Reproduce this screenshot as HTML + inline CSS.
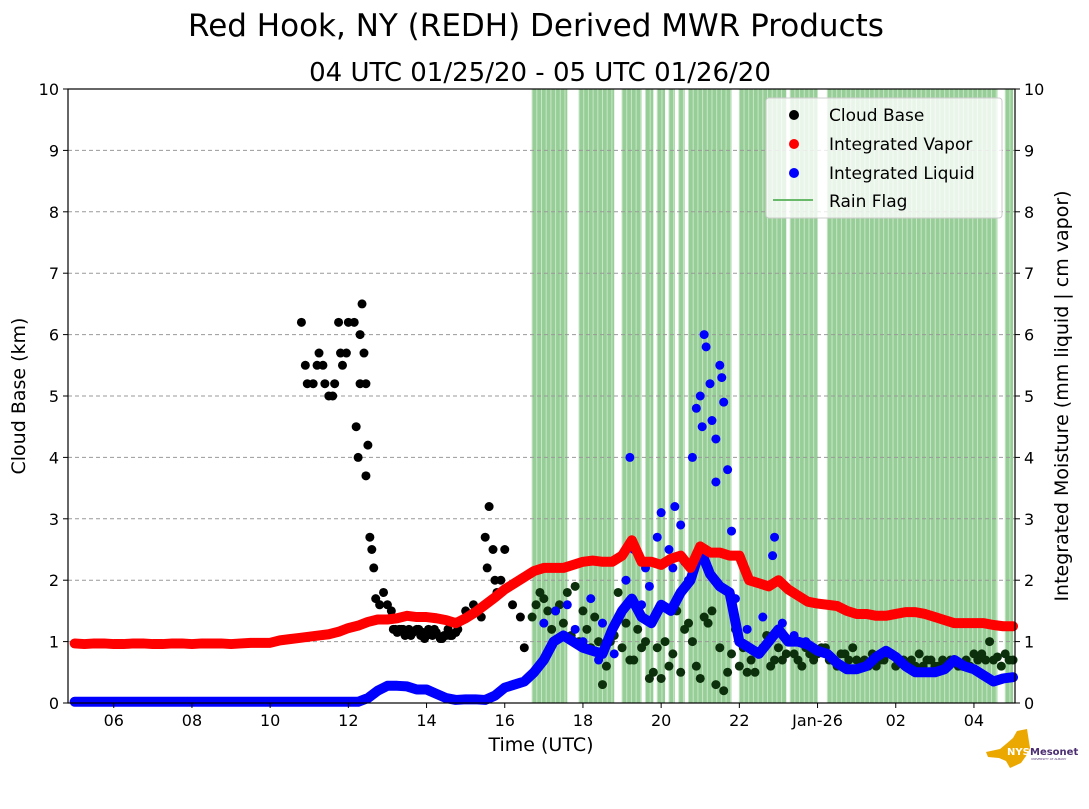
<!DOCTYPE html>
<html><head><meta charset="utf-8"><style>
body{margin:0;background:#fff;font-family:"Liberation Sans","DejaVu Sans",sans-serif;}
svg text{font-family:"DejaVu Sans","Liberation Sans",sans-serif;}
</style></head><body>
<svg id="chart" width="1089" height="804" xmlns="http://www.w3.org/2000/svg">
<text x="536" y="36" font-size="31" text-anchor="middle">Red Hook, NY (REDH) Derived MWR Products</text>
<text x="540" y="81" font-size="26" text-anchor="middle">04 UTC 01/25/20 - 05 UTC 01/26/20</text>
<g id="rain"></g>
<g id="grid"></g>
<g id="marks"></g>
<rect x="68" y="89" width="947" height="614" fill="none" stroke="#000" stroke-width="1.2"/>
<g id="axes"></g>
<text x="541" y="751" font-size="19" text-anchor="middle">Time (UTC)</text>
<text transform="translate(25,396) rotate(-90)" font-size="19" text-anchor="middle">Cloud Base (km)</text>
<text transform="translate(1068,396) rotate(-90)" font-size="19" text-anchor="middle">Integrated Moisture (mm liquid | cm vapor)</text>
<g>
<rect x="766" y="98" width="236" height="120" rx="3" fill="#fff" fill-opacity="0.8" stroke="#ccc"/>
<circle cx="794" cy="115" r="5" fill="#000"/><text x="829" y="121" font-size="17">Cloud Base</text>
<circle cx="794" cy="144" r="5" fill="#f00"/><text x="829" y="150" font-size="17">Integrated Vapor</text>
<circle cx="794" cy="173" r="5" fill="#00f"/><text x="829" y="179" font-size="17">Integrated Liquid</text>
<line x1="773" y1="200" x2="813" y2="200" stroke="#6ab96a" stroke-width="2"/><text x="829" y="207" font-size="17">Rain Flag</text>
</g>
<g>
<polygon points="986,752 1000,749 1006,744 1013,738 1017,731 1027,729 1030,748 1026,756 1021,763 1010,768 1006,761 999,758 988,757" fill="#eaa800"/>
<text x="1007" y="755" font-size="10" font-weight="bold" fill="#fff">NYS</text>
<text x="1030" y="755" font-size="10" font-weight="bold" fill="#4b2e72">Mesonet</text>
<text x="1031" y="760" font-size="3" fill="#4b2e72">UNIVERSITY AT ALBANY</text>
</g>
</svg>
<script>
const xTicks=[6,8,10,12,14,16,18,20,22,24,26,28];
const xTickLabels=["06","08","10","12","14","16","18","20","22","Jan-26","02","04"];
const yTicks=[0,1,2,3,4,5,6,7,8,9,10];
const vaporStart=5.0, step=0.25;
const vapor=[0.97,0.96,0.97,0.97,0.96,0.96,0.97,0.97,0.96,0.96,0.97,0.97,0.96,0.97,0.97,0.97,0.96,0.97,0.98,0.98,0.98,1.02,1.04,1.06,1.08,1.1,1.12,1.16,1.22,1.26,1.32,1.36,1.36,1.38,1.42,1.4,1.4,1.38,1.35,1.3,1.38,1.48,1.6,1.72,1.85,1.95,2.05,2.15,2.2,2.2,2.2,2.25,2.3,2.32,2.3,2.3,2.4,2.65,2.3,2.3,2.25,2.35,2.4,2.2,2.55,2.45,2.45,2.4,2.4,2.0,1.95,1.9,2.0,1.85,1.75,1.65,1.62,1.6,1.58,1.5,1.45,1.45,1.42,1.42,1.45,1.48,1.48,1.45,1.4,1.35,1.3,1.3,1.3,1.3,1.27,1.25,1.25];
const liquid=[0.02,0.02,0.02,0.02,0.02,0.02,0.02,0.02,0.02,0.02,0.02,0.02,0.02,0.02,0.02,0.02,0.02,0.02,0.02,0.02,0.02,0.02,0.02,0.02,0.02,0.02,0.02,0.02,0.02,0.02,0.08,0.2,0.28,0.28,0.27,0.22,0.22,0.15,0.08,0.05,0.06,0.06,0.05,0.12,0.25,0.3,0.35,0.5,0.7,1.0,1.1,1.0,0.9,0.85,0.8,1.2,1.5,1.7,1.4,1.3,1.6,1.5,1.8,2.0,2.5,2.1,1.9,1.8,1.0,0.9,0.8,1.0,1.2,1.0,1.0,0.95,0.85,0.8,0.65,0.55,0.55,0.6,0.75,0.85,0.75,0.6,0.5,0.5,0.5,0.55,0.7,0.6,0.55,0.45,0.35,0.4,0.42];
const liquidExtraT=[19.2,20.0,20.2,20.35,20.5,20.8,20.9,21.0,21.1,21.15,21.25,21.3,21.4,21.5,21.55,21.6,21.7,21.8,21.4,22.9,22.85,19.3,19.6,18.5,18.2,17.3,19.9,20.6,21.05,17.6,17.0,17.8,18.0,18.8,19.1,19.5,20.3,20.7,21.9,22.2,22.6,23.1,23.4,23.7,18.4,19.7];
const liquidExtraV=[4.0,3.1,2.5,3.2,2.9,4.0,4.8,5.0,6.0,5.8,5.2,4.6,4.3,5.5,5.3,4.9,3.8,2.8,3.6,2.7,2.4,2.5,2.2,1.3,1.7,1.5,2.7,2.3,4.5,1.6,1.3,1.2,1.0,0.8,2.0,1.6,2.2,2.0,1.7,1.2,1.4,1.3,1.1,1.0,0.7,1.9];
const cloudT=[10.8,10.9,10.95,11.1,11.2,11.25,11.35,11.4,11.5,11.6,11.65,11.75,11.8,11.85,11.95,12.0,12.15,12.2,12.25,12.3,12.3,12.35,12.4,12.45,12.45,12.5,12.55,12.6,12.65,12.7,12.8,12.9,13.0,13.1,13.2,13.4,13.6,13.8,14.0,14.2,14.4,14.6,14.8,15.0,15.2,15.4,15.5,15.55,15.6,15.7,15.75,15.8,15.9,16.0,16.2,16.4,16.5,16.7,16.8,17.0,17.3,17.6,18.0,18.3,18.5,18.9,19.1,19.5,19.8,20.0,20.3,20.6,21.0,21.3,21.6,21.8,22.0,22.3,22.6,22.9,23.2,23.5,23.8,24.1,24.4,24.7,25.0,25.3,25.6,25.9,26.2,26.5,26.8,27.1,27.4,27.7,28.0,28.3,28.6,28.9,13.3,13.9,14.5,17.8,18.7,19.3,20.8,21.2,22.2,
13.15,13.25,13.35,13.45,13.55,13.65,13.75,13.85,13.95,14.05,14.15,14.25,14.35,14.45,14.55,14.65,14.75,16.9,17.1,17.2,17.4,17.5,17.7,17.9,18.1,18.2,18.4,18.6,18.8,19.0,19.2,19.4,19.6,19.7,19.9,20.1,20.2,20.4,20.5,20.7,20.9,21.1,21.4,21.5,21.7,21.9,22.1,22.4,22.5,22.7,22.8,23.0,23.1,23.3,23.4,23.6,23.7,23.9,24.0,24.2,24.3,24.5,24.6,24.8,24.9,25.1,25.2,25.4,25.5,25.7,25.8,26.0,26.1,26.3,26.4,26.6,26.7,26.9,27.0,27.2,27.3,27.5,27.6,27.8,27.9,28.1,28.2,28.4,28.5,28.7,28.8,29.0];
const cloudV=[6.2,5.5,5.2,5.2,5.5,5.7,5.5,5.2,5.0,5.0,5.2,6.2,5.7,5.5,5.7,6.2,6.2,4.5,4.0,5.2,6.0,6.5,5.7,5.2,3.7,4.2,2.7,2.5,2.2,1.7,1.6,1.8,1.6,1.5,1.2,1.2,1.1,1.2,1.1,1.2,1.05,1.1,1.2,1.5,1.6,1.4,2.7,2.2,3.2,2.5,2.0,1.8,2.0,2.5,1.6,1.4,0.9,1.4,1.6,1.7,1.5,1.8,1.5,1.4,0.3,1.8,1.3,0.9,0.5,0.4,0.8,1.2,0.4,1.5,0.2,0.8,0.6,0.7,0.9,0.7,0.8,0.7,0.8,0.9,0.7,0.8,0.7,0.6,0.7,0.8,0.7,0.6,0.7,0.6,0.7,0.6,0.8,0.7,0.75,0.7,1.2,1.15,1.1,1.9,1.0,0.7,1.0,1.3,0.5,
1.2,1.15,1.2,1.1,1.2,1.15,1.2,1.1,1.05,1.2,1.1,1.15,1.05,1.1,1.2,1.1,1.15,1.8,1.5,1.2,1.6,1.3,1.1,1.0,1.2,0.9,1.0,0.6,1.1,0.9,0.7,1.2,1.0,0.4,0.9,1.0,0.6,1.5,0.5,1.3,0.6,1.4,0.3,0.9,0.5,1.2,0.9,0.5,0.8,1.1,0.6,0.9,0.7,1.0,0.8,0.6,0.9,0.7,0.8,0.9,0.7,0.6,0.8,0.7,0.9,0.6,0.7,0.8,0.6,0.7,0.8,0.6,0.7,0.6,0.7,0.8,0.6,0.7,0.6,0.7,0.6,0.7,0.6,0.7,0.6,0.7,0.8,1.0,0.7,0.6,0.8,0.7];
const rainStart=[16.7,17.9,19.0,19.6,19.9,20.2,20.45,20.7,22.0,23.3,24.25,28.8];
const rainEnd=[17.6,18.8,19.5,19.8,20.1,20.35,20.6,21.8,23.2,24.0,28.6,29.0];

const NS="http://www.w3.org/2000/svg";
const X0=68,X1=1015,Y0=703,Y1=89,T0=4.83,T1=29.05;
const xs=t=>X0+(t-T0)/(T1-T0)*(X1-X0);
const ys=v=>Y0-v/10*(Y0-Y1);
function mk(tag,attrs,parent){const e=document.createElementNS(NS,tag);for(const k in attrs)e.setAttribute(k,attrs[k]);parent.appendChild(e);return e;}
const rain=document.getElementById('rain'),grid=document.getElementById('grid'),marks=document.getElementById('marks'),axes=document.getElementById('axes');
for(let i=0;i<rainStart.length;i++){
  const r=mk('rect',{x:xs(rainStart[i]),y:Y1,width:xs(rainEnd[i])-xs(rainStart[i]),height:Y0-Y1,fill:'#8cc98c','fill-opacity':0.9},rain);
  
  
  for(let t=rainStart[i];t<rainEnd[i];t+=0.12){
    const l=mk('line',{x1:xs(t),x2:xs(t),y1:Y1,y2:Y0,stroke:'#c8e6c8','stroke-width':1},rain);
    
    
  }
}
yTicks.forEach(v=>{
  if(v>0&&v<10){const g=mk('line',{x1:X0,x2:X1,y1:ys(v),y2:ys(v),stroke:'#999','stroke-dasharray':'4,3','stroke-width':1},grid);
  
  }
  [[X0-5,X0,X0-9,'end'],[X1,X1+5,X1+9,'start']].forEach(s=>{
    mk('line',{x1:s[0],x2:s[1],y1:ys(v),y2:ys(v),stroke:'#000'},axes);
    const t=mk('text',{x:s[2],y:ys(v)+6,'font-size':16,'text-anchor':s[3]},axes);t.textContent=v;
    
    
  });
});
xTicks.forEach((h,i)=>{
  mk('line',{x1:xs(h),x2:xs(h),y1:Y0,y2:Y0+5,stroke:'#000'},axes);
  const t=mk('text',{x:xs(h),y:Y0+23,'font-size':16,'text-anchor':'middle'},axes);t.textContent=xTickLabels[i];
  
  
});
function series(vals,color,name){
  const pts=vals.map((v,i)=>xs(vaporStart+i*step)+','+ys(v)).join(' ');
  const p=mk('polyline',{points:pts,fill:'none',stroke:color,'stroke-width':10,'stroke-linejoin':'round','stroke-linecap':'round'},marks);
  
  
}
cloudT.forEach((t,i)=>{const c=mk('circle',{cx:xs(t),cy:ys(cloudV[i]),r:4.5,fill:t>16.6?'#0b300b':'#000'},marks);
  
  });
series(liquid,'#00f','integrated-liquid');
liquidExtraT.forEach((t,i)=>{const c=mk('circle',{cx:xs(t),cy:ys(liquidExtraV[i]),r:4.5,fill:'#00f'},marks);
  
  });
series(vapor,'#f00','integrated-vapor');
</script>
</body></html>
